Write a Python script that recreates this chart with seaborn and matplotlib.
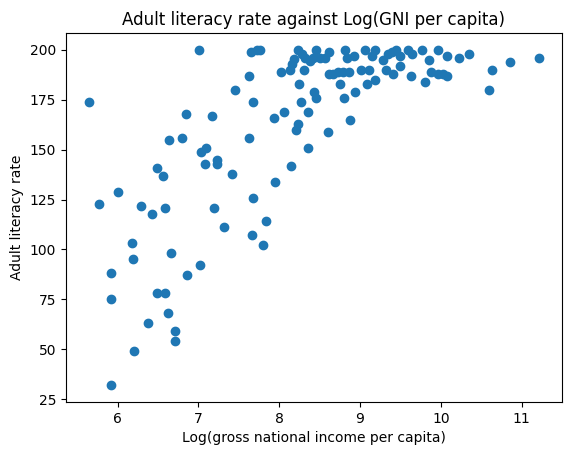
import matplotlib
matplotlib.use('Agg')
import matplotlib.pyplot as plt
import seaborn as sns
import pandas as pd

# valores
log_gni = [5.64, 7.01, 7.65, 7.72, 7.76, 7.63, 7.45, 7.67, 6.85, 7.17,
           6.64, 6.80, 7.63, 7.09, 7.03, 7.23, 7.23, 7.08, 6.49, 6.56,
           7.42, 6.00, 5.77, 6.29, 6.43, 6.59, 7.19, 7.68, 7.32, 7.66,
           7.80, 6.18, 6.66, 6.19, 7.02, 5.92, 6.86, 5.92, 6.49, 6.58,
           6.62, 6.37, 6.71, 6.71, 6.20, 5.92, 8.23, 8.21, 8.60, 8.88,
           8.36, 8.14, 7.95, 7.83, 8.02, 8.13, 8.18, 8.23, 8.28, 8.32,
           8.16, 8.38, 8.42, 8.46, 8.51, 8.57, 8.62, 8.31, 8.24, 8.43,
           8.45, 8.27, 8.06, 7.94, 8.35, 8.81, 8.84, 8.92, 9.06, 9.18,
           9.15, 9.28, 9.35, 8.61, 8.67, 8.73, 8.79, 8.86, 8.75, 9.01,
           9.11, 9.19, 9.09, 8.94, 8.80, 9.32, 9.39, 9.45, 9.50, 9.59,
           9.64, 9.77, 9.85, 9.97, 10.07, 10.22, 10.35, 10.85, 11.22, 10.63,
           10.60, 9.41, 9.50, 9.63, 9.80, 9.88, 9.97, 10.03, 10.08]
literacy = [174, 200, 199, 200, 200, 187, 180, 174, 168, 167,
            155, 156, 156, 151, 149, 145, 143, 143, 141, 137,
            138, 129, 123, 122, 118, 121, 121, 126, 111, 107,
            102, 103, 98, 95, 92, 88, 87, 75, 78, 78,
            68, 63, 59, 54, 49, 32, 163, 160, 159, 165,
            151, 142, 134, 114, 189, 190, 195.5, 200, 198, 196,
            193, 194.5, 196, 200, 196, 196, 199, 190, 183, 179,
            176, 174, 169, 166, 169, 200, 196, 197, 200, 200,
            197, 195, 198, 188, 188, 189, 189, 189, 183, 190,
            190, 185, 183, 179, 176, 190, 199, 200, 197, 200,
            198, 200, 195, 200, 197, 196, 198, 194, 196, 190,
            180, 188, 192, 187, 184, 189, 188, 188, 187]

df = pd.DataFrame({'log_gni': log_gni, 'literacy': literacy})

fig, ax = plt.subplots(figsize=(5.71, 4.55), dpi=100)
fig.subplots_adjust(left=66/571, right=562/571, top=1-33/455, bottom=1-402/455)

# mesmo visual do plt.scatter padrao (borda da cor do ponto)
sns.scatterplot(data=df, x='log_gni', y='literacy', ax=ax, s=36,
                color='#1f77b4', edgecolor='#1f77b4', linewidth=1)

ax.set_title('Adult literacy rate against Log(GNI per capita)')
ax.set_xlabel('Log(gross national income per capita)')
ax.set_ylabel('Adult literacy rate')

fig.savefig('out.png', dpi=100)
